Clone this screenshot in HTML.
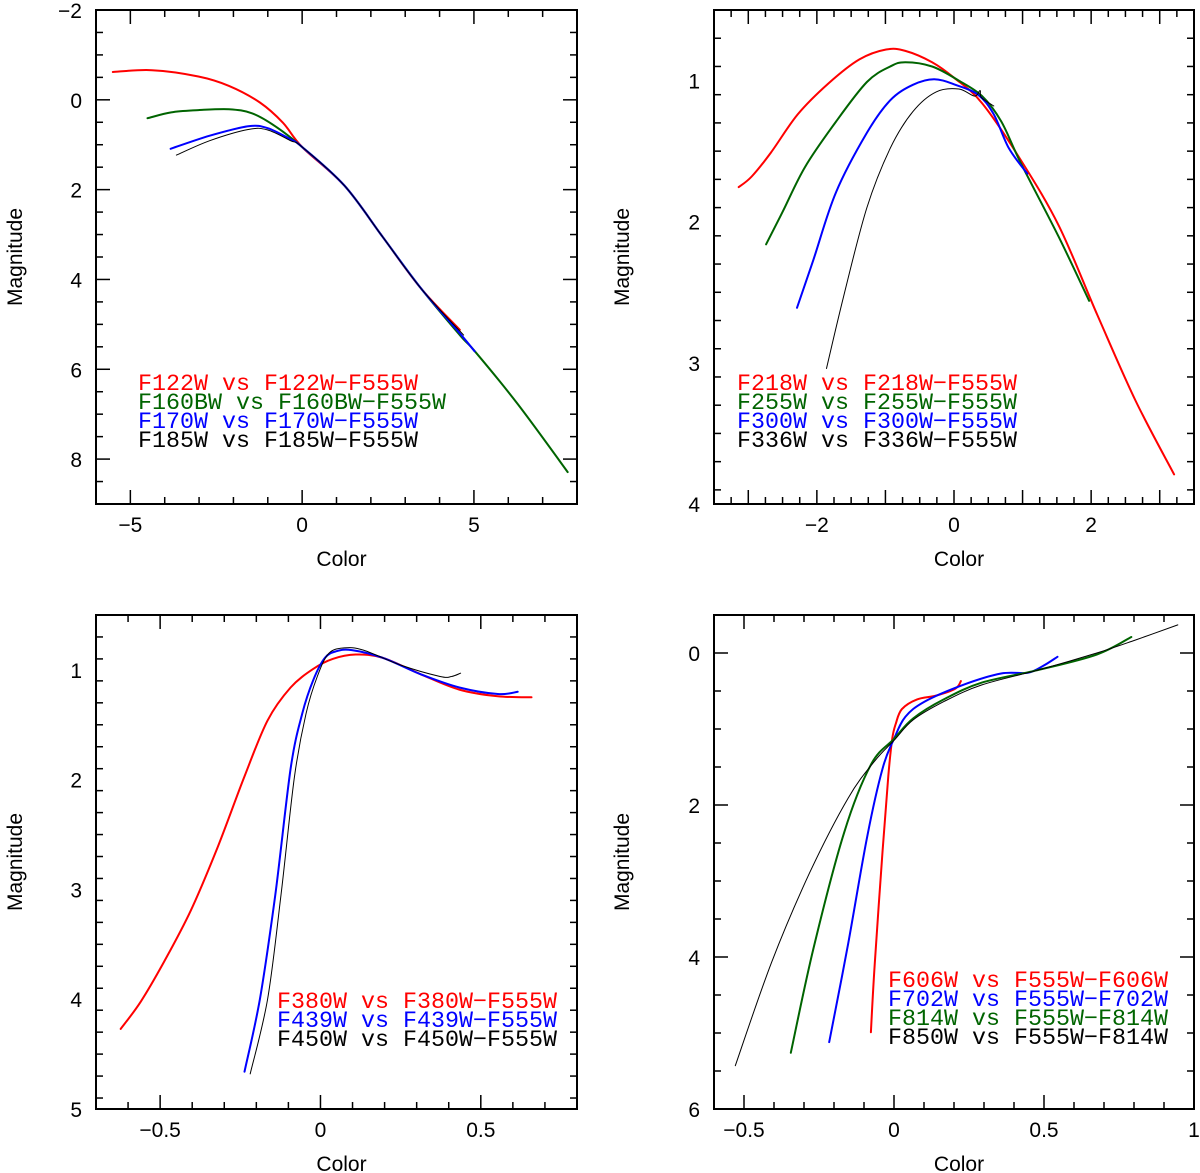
<!DOCTYPE html>
<html><head><meta charset="utf-8"><style>
html,body{margin:0;padding:0;background:#fff;}
svg{display:block;}
text{font-family:"Liberation Sans",sans-serif;}
.leg{font-family:"Liberation Mono",monospace;font-size:23.3px;}
</style></head><body>
<svg id="chart" width="1200" height="1173" viewBox="0 0 1200 1173" xmlns="http://www.w3.org/2000/svg"></svg>
<script>
// ---------- Panel 1 data ----------
const p1Names = ["F122W vs F122W\u2212F555W","F160BW vs F160BW\u2212F555W","F170W vs F170W\u2212F555W","F185W vs F185W\u2212F555W"];
const p1RedX = [-5.51,-4.37,-3.02,-2.13,-1.23,-0.56,0,1.23,2.35,3.47,4.59];
const p1RedY = [-0.62,-0.66,-0.52,-0.31,0.06,0.51,1.05,1.91,3.06,4.21,5.12];
const p1GreenX = [-4.5,-3.81,-3.02,-2.13,-1.46,-0.78,0,1.23,2.35,3.47,4.59,5.04,6.27,7.73];
const p1GreenY = [0.41,0.28,0.23,0.21,0.3,0.59,1.05,1.91,3.06,4.21,5.24,5.61,6.77,8.29];
const p1BlueX = [-3.83,-2.69,-1.57,-1.01,-0.34,0,1.23,2.35,3.47,4.59,5.02];
const p1BlueY = [1.09,0.8,0.59,0.63,0.88,1.05,1.91,3.06,4.21,5.2,5.6];
const p1BlackX = [-3.66,-2.69,-1.57,-1.01,-0.34,0,1.23,2.35,3.47,4.7];
const p1BlackY = [1.23,0.91,0.66,0.67,0.91,1.05,1.91,3.06,4.21,5.24];
const p1XTicks = [-5,0,5];
const p1YTicks = [-2,0,2,4,6,8];

// ---------- Panel 2 data ----------
const p2Names = ["F218W vs F218W\u2212F555W","F255W vs F255W\u2212F555W","F300W vs F300W\u2212F555W","F336W vs F336W\u2212F555W"];
const p2RedX = [-3.14,-2.95,-2.67,-2.28,-1.83,-1.38,-0.99,-0.71,-0.32,0,0.41,0.97,1.53,2.09,2.65,3.21];
const p2RedY = [1.755,1.68,1.51,1.24,1.02,0.85,0.78,0.79,0.87,0.98,1.16,1.56,2.03,2.66,3.27,3.79];
const p2GreenX = [-2.74,-2.5,-2.17,-1.72,-1.27,-0.93,-0.71,-0.32,0.07,0.41,0.69,0.97,1.53,1.97];
const p2GreenY = [2.16,1.93,1.61,1.29,1.01,0.9,0.87,0.9,1.0,1.11,1.29,1.58,2.11,2.56];
const p2BlueX = [-2.29,-2.05,-1.72,-1.27,-0.93,-0.6,-0.29,0.02,0.35,0.58,0.8,1.07];
const p2BlueY = [2.61,2.27,1.79,1.37,1.14,1.03,0.99,1.03,1.1,1.24,1.48,1.66];
const p2BlackX = [-1.86,-1.61,-1.27,-0.93,-0.6,-0.26,0.07,0.3,0.38,0.4,0.58];
const p2BlackY = [3.04,2.53,1.9,1.48,1.22,1.08,1.06,1.11,1.07,1.12,1.18];
const p2XTicks = [-2,0,2];
const p2YTicks = [1,2,3,4];

// ---------- Panel 3 data ----------
const p3Names = ["F380W vs F380W\u2212F555W","F439W vs F439W\u2212F555W","F450W vs F450W\u2212F555W"];
const p3RedX = [-0.623,-0.56,-0.488,-0.404,-0.32,-0.237,-0.165,-0.093,-0.022,0.038,0.11,0.194,0.313,0.433,0.553,0.658];
const p3RedY = [4.27,4.02,3.66,3.19,2.61,1.97,1.46,1.16,0.99,0.9,0.86,0.89,1.04,1.18,1.24,1.25];
const p3BlueX = [-0.237,-0.189,-0.141,-0.093,-0.057,-0.022,0.014,0.05,0.098,0.194,0.313,0.433,0.553,0.615];
const p3BlueY = [4.66,4.0,3.05,1.9,1.4,1.09,0.89,0.83,0.82,0.89,1.04,1.16,1.22,1.2];
const p3BlackX = [-0.219,-0.165,-0.123,-0.081,-0.045,-0.01,0.026,0.074,0.134,0.254,0.373,0.409,0.437];
const p3BlackY = [4.68,4.0,3.05,1.97,1.4,1.06,0.85,0.8,0.82,0.96,1.06,1.06,1.03];
const p3XTicks = [-0.5,0,0.5];
const p3YTicks = [1,2,3,4,5];

// ---------- Panel 4 data ----------
const p4Names = ["F606W vs F555W\u2212F606W","F702W vs F555W\u2212F702W","F814W vs F555W\u2212F814W","F850W vs F555W\u2212F814W"];
const p4RedX = [-0.077,-0.064,-0.038,-0.019,-0.006,0.006,0.026,0.077,0.14,0.204,0.223];
const p4RedY = [4.99,4.08,2.6,1.62,1.13,0.93,0.74,0.61,0.56,0.47,0.37];
const p4BlueX = [-0.216,-0.153,-0.089,-0.038,0,0.038,0.102,0.23,0.357,0.446,0.497,0.545];
const p4BlueY = [5.12,3.83,2.41,1.52,1.13,0.84,0.64,0.42,0.27,0.26,0.17,0.05];
const p4GreenX = [-0.344,-0.268,-0.166,-0.077,0,0.064,0.166,0.293,0.485,0.676,0.791];
const p4GreenY = [5.26,3.88,2.36,1.47,1.13,0.86,0.61,0.39,0.22,0.02,-0.21];
const p4BlackX = [-0.529,-0.408,-0.281,-0.153,-0.064,0,0.064,0.166,0.293,0.485,0.676,0.804,0.946];
const p4BlackY = [5.43,4.07,2.89,1.91,1.42,1.15,0.88,0.64,0.42,0.22,0,-0.17,-0.37];
const p4XTicks = [-0.5,0,0.5,1];
const p4YTicks = [0,2,4,6];

const RED="#ff0000", GREEN="#006400", BLUE="#0000ff", BLACK="#000000";
const NS="http://www.w3.org/2000/svg";
const svg=document.getElementById('chart');
function mk(tag,attrs,parent){const e=document.createElementNS(NS,tag);for(const k in attrs)e.setAttribute(k,attrs[k]);(parent||svg).appendChild(e);return e;}
function fmt(v){let s=String(v);if(s.startsWith('-'))s='\u2212'+s.slice(1);return s;}
function smoothPath(P){
  let d='M'+P[0][0].toFixed(1)+' '+P[0][1].toFixed(1);
  for(let i=0;i<P.length-1;i++){
    const p0=P[i-1]||P[i],p1=P[i],p2=P[i+1],p3=P[i+2]||P[i+1];
    const c1=[p1[0]+(p2[0]-p0[0])/6,p1[1]+(p2[1]-p0[1])/6];
    const c2=[p2[0]-(p3[0]-p1[0])/6,p2[1]-(p3[1]-p1[1])/6];
    d+=' C'+c1[0].toFixed(1)+' '+c1[1].toFixed(1)+' '+c2[0].toFixed(1)+' '+c2[1].toFixed(1)+' '+p2[0].toFixed(1)+' '+p2[1].toFixed(1);
  }
  return d;
}

function panel(cfg){
  const g=mk('g',{});
  
  
  const L=cfg.L,R=cfg.R,T=cfg.T,B=cfg.B;
  const sx=v=>L+(v-cfg.x0)/(cfg.x1-cfg.x0)*(R-L);
  const sy=v=>T+(v-cfg.y0)/(cfg.y1-cfg.y0)*(B-T);
  const eps=1e-6;
  for(let i=0;;i++){const v=cfg.x0+i*cfg.xMinor; if(v>cfg.x1+eps)break;
    const isMaj=Math.abs(v/cfg.xMajor-Math.round(v/cfg.xMajor))<1e-4; const len=isMaj?14:7; const x=sx(v);
    const t1=mk('line',{x1:x,y1:B,x2:x,y2:B-len,stroke:'#000','stroke-width':1.5},g);
    
    const t2=mk('line',{x1:x,y1:T,x2:x,y2:T+len,stroke:'#000','stroke-width':1.5},g);
    }
  for(let i=0;;i++){const v=cfg.y0+i*cfg.yMinor; if(v>cfg.y1+eps)break;
    const isMaj=Math.abs(v/cfg.yMajor-Math.round(v/cfg.yMajor))<1e-4; const len=isMaj?14:7; const y=sy(v);
    const t1=mk('line',{x1:L,y1:y,x2:L+len,y2:y,stroke:'#000','stroke-width':1.5},g);
    
    const t2=mk('line',{x1:R,y1:y,x2:R-len,y2:y,stroke:'#000','stroke-width':1.5},g);
    }
  const fr=mk('rect',{x:L,y:T,width:R-L,height:B-T,fill:'none',stroke:'#000','stroke-width':2},g);
  
  cfg.xTicks.forEach(v=>{const t=mk('text',{x:sx(v),y:B+28,'font-size':21,'text-anchor':'middle'},g);t.textContent=fmt(v);
    });
  cfg.yTicks.forEach(v=>{const t=mk('text',{x:L-14,y:sy(v)+8,'font-size':21,'text-anchor':'end'},g);t.textContent=fmt(v);
    });
  const xt=mk('text',{x:(L+R)/2+5,y:B+62,'font-size':21,'text-anchor':'middle'},g);xt.textContent='Color';
  
  const yx=L-cfg.ytOff, yy=(T+B)/2;
  const yt=mk('text',{x:yx,y:yy,'font-size':21,'text-anchor':'middle',transform:`rotate(-90 ${yx} ${yy})`},g);yt.textContent='Magnitude';
  
  cfg.series.forEach(s=>{
    const pts=s.xs.map((v,i)=>[sx(v),sy(s.ys[i])]);
    const p=mk('path',{d:smoothPath(pts),fill:'none',stroke:s.color,'stroke-width':s.w,'stroke-linejoin':'round','stroke-linecap':'round'},g);
    
  });
  cfg.legend.forEach((l,i)=>{
    const t=mk('text',{x:cfg.legX,y:cfg.legY+i*19,fill:l.color,'class':'leg',textLength:l.text.length*14,lengthAdjust:'spacingAndGlyphs'},g);
    t.textContent=l.text;
    
  });
}

panel({name:'panel-far-uv',L:96,R:577,T:10,B:504,x0:-6,x1:8,y0:-2,y1:9,xMinor:1,xMajor:5,yMinor:0.5,yMajor:2,xTicks:p1XTicks,yTicks:p1YTicks,ytOff:74,
  series:[{name:'series-f122w',xs:p1RedX,ys:p1RedY,color:RED,w:2},{name:'series-f160bw',xs:p1GreenX,ys:p1GreenY,color:GREEN,w:2},{name:'series-f170w',xs:p1BlueX,ys:p1BlueY,color:BLUE,w:2},{name:'series-f185w',xs:p1BlackX,ys:p1BlackY,color:BLACK,w:1}],
  legX:138,legY:390,legend:[{text:p1Names[0],color:RED},{text:p1Names[1],color:GREEN},{text:p1Names[2],color:BLUE},{text:p1Names[3],color:BLACK}]});

panel({name:'panel-mid-uv',L:714,R:1194,T:10,B:504,x0:-3.5,x1:3.5,y0:0.5,y1:4,xMinor:0.25,xMajor:1,yMinor:0.2,yMajor:1,xTicks:p2XTicks,yTicks:p2YTicks,ytOff:85,
  series:[{name:'series-f218w',xs:p2RedX,ys:p2RedY,color:RED,w:2},{name:'series-f255w',xs:p2GreenX,ys:p2GreenY,color:GREEN,w:2},{name:'series-f300w',xs:p2BlueX,ys:p2BlueY,color:BLUE,w:2},{name:'series-f336w',xs:p2BlackX,ys:p2BlackY,color:BLACK,w:1}],
  legX:737,legY:390,legend:[{text:p2Names[0],color:RED},{text:p2Names[1],color:GREEN},{text:p2Names[2],color:BLUE},{text:p2Names[3],color:BLACK}]});

panel({name:'panel-blue',L:96,R:577,T:615,B:1109,x0:-0.7,x1:0.8,y0:0.5,y1:5,xMinor:0.1,xMajor:0.5,yMinor:0.2,yMajor:1,xTicks:p3XTicks,yTicks:p3YTicks,ytOff:74,
  series:[{name:'series-f380w',xs:p3RedX,ys:p3RedY,color:RED,w:2},{name:'series-f439w',xs:p3BlueX,ys:p3BlueY,color:BLUE,w:2},{name:'series-f450w',xs:p3BlackX,ys:p3BlackY,color:BLACK,w:1}],
  legX:277,legY:1008,legend:[{text:p3Names[0],color:RED},{text:p3Names[1],color:BLUE},{text:p3Names[2],color:BLACK}]});

panel({name:'panel-red',L:714,R:1194,T:615,B:1109,x0:-0.6,x1:1,y0:-0.5,y1:6,xMinor:0.1,xMajor:0.5,yMinor:0.5,yMajor:2,xTicks:p4XTicks,yTicks:p4YTicks,ytOff:85,
  series:[{name:'series-f606w',xs:p4RedX,ys:p4RedY,color:RED,w:2},{name:'series-f702w',xs:p4BlueX,ys:p4BlueY,color:BLUE,w:2},{name:'series-f814w',xs:p4GreenX,ys:p4GreenY,color:GREEN,w:2},{name:'series-f850w',xs:p4BlackX,ys:p4BlackY,color:BLACK,w:1}],
  legX:888,legY:987,legend:[{text:p4Names[0],color:RED},{text:p4Names[1],color:BLUE},{text:p4Names[2],color:GREEN},{text:p4Names[3],color:BLACK}]});
</script>
</body></html>
